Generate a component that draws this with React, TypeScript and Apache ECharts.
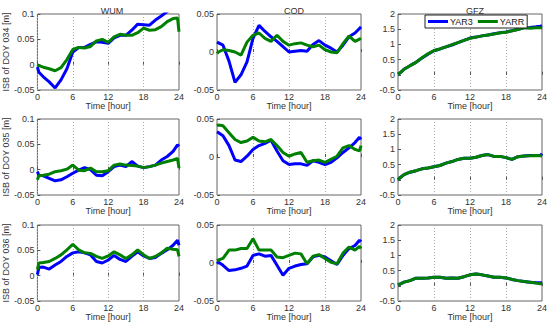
import React, { useEffect, useRef } from "react";
import * as echarts from "echarts";

const TIME = [0, 0.25, 1, 2, 3, 4, 5, 6, 7, 8, 9, 10, 11, 12, 13, 14, 15, 16, 17, 18, 19, 20, 21, 22, 23, 23.75, 24];
const CENTERS = ["WUM", "COD", "GFZ"];
const DAYS = ["034", "035", "036"];
const SERIES_NAMES = ["YAR3", "YARR"];
const X_TICKS = { min: 0, max: 24, interval: 6 };

// DOY 034
const WUM34_YAR3 = [-0.005, -0.015, -0.024, -0.034, -0.046, -0.03, -0.008, 0.025, 0.034, 0.034, 0.04, 0.045, 0.044, 0.042, 0.053, 0.058, 0.058, 0.068, 0.08, 0.079, 0.078, 0.088, 0.096, 0.105, 0.11, 0.11, 0.11];
const WUM34_YARR = [0.0, -0.002, -0.005, -0.008, -0.012, -0.006, 0.01, 0.03, 0.034, 0.033, 0.036, 0.047, 0.05, 0.044, 0.055, 0.06, 0.058, 0.058, 0.063, 0.072, 0.068, 0.069, 0.075, 0.085, 0.091, 0.092, 0.065];
const COD34_YAR3 = [0.013, 0.012, 0.009, -0.012, -0.04, -0.03, -0.013, 0.018, 0.035, 0.027, 0.02, 0.014, 0.007, 0.0, 0.001, 0.002, 0.001, 0.01, 0.015, 0.009, 0.005, 0.0, 0.009, 0.02, 0.025, 0.031, 0.033];
const COD34_YARR = [-0.002, 0.0, 0.003, 0.002, 0.0, -0.004, 0.013, 0.022, 0.025, 0.018, 0.014, 0.022, 0.014, 0.009, 0.011, 0.012, 0.009, 0.007, 0.009, 0.003, 0.0, -0.001, 0.011, 0.021, 0.014, 0.017, 0.018];
const GFZ34_YAR3 = [0.02, 0.05, 0.18, 0.3, 0.41, 0.55, 0.68, 0.79, 0.85, 0.92, 0.98, 1.06, 1.13, 1.21, 1.24, 1.28, 1.31, 1.35, 1.38, 1.41, 1.45, 1.5, 1.55, 1.56, 1.58, 1.6, 1.62];
const GFZ34_YARR = [0.02, 0.05, 0.18, 0.3, 0.41, 0.56, 0.69, 0.8, 0.85, 0.92, 0.99, 1.06, 1.13, 1.2, 1.24, 1.28, 1.31, 1.34, 1.38, 1.4, 1.45, 1.49, 1.55, 1.53, 1.55, 1.55, 1.55];
// DOY 035
const WUM35_YAR3 = [-0.004, -0.011, -0.012, -0.017, -0.022, -0.02, -0.014, -0.007, -0.001, 0.004, 0.0, -0.011, -0.012, -0.004, 0.006, 0.009, 0.006, 0.016, 0.007, 0.004, 0.006, 0.009, 0.019, 0.026, 0.036, 0.049, 0.046];
const WUM35_YARR = [-0.02, -0.012, -0.011, -0.009, -0.004, -0.002, 0.001, 0.009, -0.001, -0.002, 0.003, -0.004, -0.004, -0.002, 0.009, 0.011, 0.009, 0.008, 0.007, 0.004, 0.006, 0.009, 0.013, 0.016, 0.019, 0.022, 0.003];
const COD35_YAR3 = [0.033, 0.032, 0.028, 0.015, -0.004, -0.006, 0.001, 0.01, 0.015, 0.018, 0.022, 0.008, -0.005, -0.01, -0.009, -0.009, -0.011, -0.005, -0.007, -0.01, -0.007, -0.001, 0.006, 0.012, 0.019, 0.026, 0.023];
const COD35_YARR = [0.041, 0.042, 0.041, 0.032, 0.023, 0.019, 0.021, 0.026, 0.021, 0.02, 0.023, 0.015, 0.006, 0.001, 0.004, 0.006, -0.007, -0.005, -0.004, -0.007, -0.003, 0.001, 0.012, 0.015, 0.01, 0.008, 0.015];
const GFZ35_YAR3 = [0.0, 0.05, 0.17, 0.25, 0.3, 0.36, 0.39, 0.43, 0.47, 0.55, 0.6, 0.67, 0.71, 0.71, 0.74, 0.8, 0.83, 0.77, 0.77, 0.73, 0.67, 0.76, 0.78, 0.8, 0.8, 0.8, 0.86];
const GFZ35_YARR = [0.0, 0.05, 0.17, 0.25, 0.3, 0.36, 0.39, 0.43, 0.47, 0.55, 0.6, 0.67, 0.71, 0.71, 0.74, 0.8, 0.83, 0.77, 0.77, 0.73, 0.67, 0.76, 0.78, 0.79, 0.8, 0.79, 0.78];
// DOY 036
const WUM36_YAR3 = [0.002, 0.016, 0.017, 0.013, 0.021, 0.028, 0.038, 0.045, 0.047, 0.045, 0.041, 0.028, 0.025, 0.031, 0.04, 0.032, 0.028, 0.038, 0.047, 0.039, 0.034, 0.036, 0.044, 0.051, 0.06, 0.07, 0.06];
const WUM36_YARR = [0.012, 0.025, 0.026, 0.028, 0.034, 0.041, 0.051, 0.062, 0.051, 0.045, 0.044, 0.038, 0.034, 0.039, 0.047, 0.041, 0.034, 0.041, 0.051, 0.041, 0.034, 0.038, 0.045, 0.054, 0.052, 0.051, 0.038];
const COD36_YAR3 = [-0.001, 0.001, -0.003, -0.01, -0.009, -0.007, -0.004, 0.01, 0.012, 0.009, 0.01, -0.003, -0.016, -0.007, -0.004, -0.002, -0.001, 0.008, 0.01, 0.008, 0.003, -0.002, 0.01, 0.019, 0.023, 0.03, 0.028];
const COD36_YARR = [0.003, 0.004, 0.006, 0.017, 0.017, 0.019, 0.019, 0.032, 0.017, 0.017, 0.017, 0.008, 0.007, 0.01, 0.013, 0.012, -0.001, 0.009, 0.011, 0.006, 0.001, -0.001, 0.013, 0.021, 0.017, 0.022, 0.019];
const GFZ36_YAR3 = [0.03, 0.05, 0.12, 0.17, 0.25, 0.25, 0.26, 0.28, 0.28, 0.25, 0.26, 0.25, 0.3, 0.36, 0.39, 0.36, 0.32, 0.28, 0.28, 0.26, 0.21, 0.17, 0.14, 0.12, 0.1, 0.1, 0.1];
const GFZ36_YARR = [0.03, 0.05, 0.12, 0.17, 0.25, 0.25, 0.26, 0.28, 0.28, 0.25, 0.26, 0.25, 0.3, 0.36, 0.39, 0.36, 0.32, 0.28, 0.28, 0.26, 0.21, 0.17, 0.14, 0.12, 0.09, 0.07, 0.05];

const PANEL_DATA = [
  [[WUM34_YAR3, WUM34_YARR], [COD34_YAR3, COD34_YARR], [GFZ34_YAR3, GFZ34_YARR]],
  [[WUM35_YAR3, WUM35_YARR], [COD35_YAR3, COD35_YARR], [GFZ35_YAR3, GFZ35_YARR]],
  [[WUM36_YAR3, WUM36_YARR], [COD36_YAR3, COD36_YARR], [GFZ36_YAR3, GFZ36_YARR]],
];

const Y_RANGES = [
  { min: -0.05, max: 0.1, interval: 0.05 },
  { min: -0.05, max: 0.05, interval: 0.05 },
  { min: -0.5, max: 2, interval: 0.5 },
];

const COLORS = ["#0000ff", "#008000"];
const FONT = "Liberation Sans";

const COL_LEFT = [35, 217, 398];
const ROW_TOP = [14, 119, 225];
const W = 144;
const H = 76;

function buildOption() {
  const grid: any[] = [];
  const xAxis: any[] = [];
  const yAxis: any[] = [];
  const series: any[] = [];
  const title: any[] = [];
  CENTERS.forEach((c, ci) => {
    title.push({
      text: c,
      left: COL_LEFT[ci] + W / 2,
      top: 1,
      textAlign: "center",
      textStyle: { fontFamily: FONT, fontSize: 9, fontWeight: "normal", color: "#333" },
    });
  });
  let idx = 0;
  for (let r = 0; r < 3; r++) {
    for (let c = 0; c < 3; c++) {
      grid.push({
        left: COL_LEFT[c],
        top: ROW_TOP[r],
        width: W,
        height: H,
        show: true,
        borderColor: "#666",
        borderWidth: 1,
        backgroundColor: "#fff",
      });
      xAxis.push({
        type: "value",
        gridIndex: idx,
        min: X_TICKS.min,
        max: X_TICKS.max,
        interval: X_TICKS.interval,
        name: "Time [hour]",
        nameLocation: "middle",
        nameGap: 11,
        nameTextStyle: { fontFamily: FONT, fontSize: 9, color: "#333" },
        axisLine: { show: false },
        axisTick: { show: true, inside: true, length: 3, lineStyle: { color: "#555" } },
        axisLabel: { fontFamily: FONT, fontSize: 9, color: "#333", margin: 2 },
        splitLine: { show: true, lineStyle: { color: "#aaa", type: [1, 2], width: 1 } },
      });
      const yr = Y_RANGES[c];
      yAxis.push({
        type: "value",
        gridIndex: idx,
        min: yr.min,
        max: yr.max,
        interval: yr.interval,
        name: c === 0 ? `ISB of DOY ${DAYS[r]} [m]` : "",
        nameLocation: "middle",
        nameGap: 25,
        nameTextStyle: { fontFamily: FONT, fontSize: 9, color: "#333" },
        axisLine: { show: false },
        axisTick: { show: true, inside: true, length: 3, lineStyle: { color: "#555" } },
        axisLabel: { fontFamily: FONT, fontSize: 9, color: "#333", margin: 3 },
        splitLine: { show: false },
      });
      PANEL_DATA[r][c].forEach((vals, si) => {
        series.push({
          type: "line",
          name: SERIES_NAMES[si],
          xAxisIndex: idx,
          yAxisIndex: idx,
          data: TIME.map((t, i) => [t, vals[i]]),
          showSymbol: false,
          clip: true,
          lineStyle: { color: COLORS[si], width: 3 },
          itemStyle: { color: COLORS[si] },
        });
      });
      idx++;
    }
  }
  return {
    animation: false,
    backgroundColor: "#fff",
    title,
    legend: {
      data: SERIES_NAMES,
      left: 425,
      top: 15,
      orient: "horizontal",
      icon: "rect",
      itemWidth: 20,
      itemHeight: 3,
      itemGap: 5,
      padding: [2, 3],
      borderColor: "#222",
      borderWidth: 1,
      backgroundColor: "#fff",
      textStyle: { fontFamily: FONT, fontSize: 9, color: "#222", padding: [0, 0, 0, -3] },
    },
    grid,
    xAxis,
    yAxis,
    series,
  };
}

export default function App() {
  const ref = useRef<HTMLDivElement>(null);
  useEffect(() => {
    if (!ref.current) return;
    const chart = echarts.init(ref.current, undefined, { renderer: "svg" });
    chart.setOption(buildOption());
    return () => chart.dispose();
  }, []);
  return <div ref={ref} style={{ position: "absolute", left: 0, top: 0, width: 550, height: 324 }} />;
}
